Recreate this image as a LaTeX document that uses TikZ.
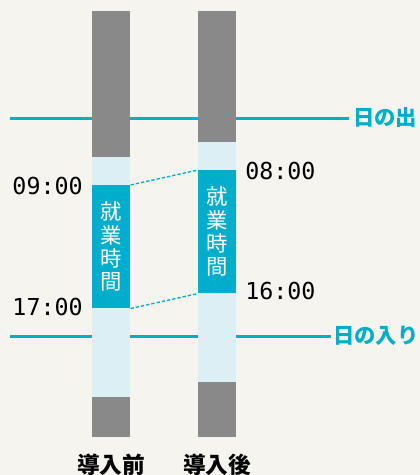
\documentclass[tikz,border=0pt]{standalone}
\usepackage{fontspec}
\newfontfamily\cjk{Noto Sans CJK JP}
\newfontfamily\digits{DejaVu Sans Mono}
\definecolor{bg}{HTML}{F6F4EF}
\definecolor{tealc}{HTML}{00AECB}
\definecolor{lightb}{HTML}{DCEFF5}
\definecolor{grayb}{HTML}{898989}
\tikzset{
  sunline/.style={draw=tealc, line width=2.25pt},
  sunlabel/.style={anchor=west, inner sep=0pt, text=tealc, font=\cjk\bfseries\fontsize{16}{17}\selectfont},
  timelabel/.style={inner sep=0pt, font=\digits\fontsize{17.5}{18}\selectfont},
  workbox/.style={fill=tealc, draw=none, minimum width=28.5pt, minimum height=92.25pt, inner sep=0pt, anchor=north west,
    text=white, align=center, font=\cjk\fontsize{16}{17.5}\selectfont},
  barlabel/.style={inner sep=0pt, font=\cjk\bfseries\fontsize{17}{18}\selectfont},
  link/.style={draw=tealc, line width=1pt, dash pattern=on 2.5pt off 1.5pt}
}
\begin{document}
\begin{tikzpicture}[x=0.75pt, y=-0.75pt]
\fill[bg] (0,0) rectangle (420,475);
\useasboundingbox (0,0) rectangle (420,475);
% sun lines
\coordinate (sr0) at (10,118);
\coordinate (sr1) at (349,118);
\coordinate (ss0) at (10,336);
\coordinate (ss1) at (331,336);
\draw[sunline] (sr0) -- (sr1);
\draw[sunline] (ss0) -- (ss1);
\node[sunlabel] (srl) at (353,118) {日の出};
\node[sunlabel] (ssl) at (333,336) {日の入り};
% left bar
\fill[grayb] (92,11) rectangle (130,157);
\fill[lightb] (92,157) rectangle (130,397);
\fill[grayb] (92,397) rectangle (130,437);
\node[workbox] (wl) at (92,185) {就\\業\\時\\間};
% right bar
\fill[grayb] (198,11) rectangle (236,142);
\fill[lightb] (198,142) rectangle (236,382);
\fill[grayb] (198,382) rectangle (236,437);
\node[workbox] (wr) at (198,170) {就\\業\\時\\間};
% links
\draw[link] (wl.north east) -- (wr.north west);
\draw[link] (wl.south east) -- (wr.south west);
% times
\node[timelabel, anchor=east] (t1) at (83,186) {09:00};
\node[timelabel, anchor=east] (t2) at (83,307) {17:00};
\node[timelabel, anchor=west] (t3) at (245,171) {08:00};
\node[timelabel, anchor=west] (t4) at (245,291) {16:00};
% bottom labels
\node[barlabel] (b1) at (111,465) {導入前};
\node[barlabel] (b2) at (217,465) {導入後};
\end{tikzpicture}
\end{document}
